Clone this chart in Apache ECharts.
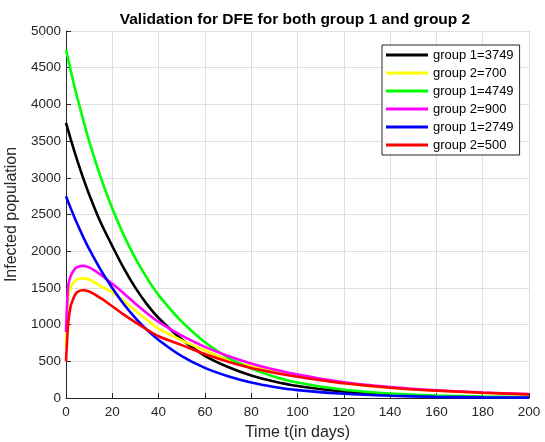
<!DOCTYPE html>
<html>
<head>
<meta charset="utf-8">
<script src="https://cdn.jsdelivr.net/npm/echarts@6/dist/echarts.min.js"></script>
<style>
  html, body { margin: 0; padding: 0; background: #fff; }
  #chart { width: 545px; height: 442px; }
</style>
</head>
<body>
<div id="chart"></div>
<script>
// time samples (days)
const days = [0, 0.5, 1, 2, 3, 4, 5, 7, 10, 15, 20, 25, 30, 35, 40, 50, 60, 70, 80, 90, 100, 120, 140, 160, 180, 200]

// group 1 curves
const g1_3749 = [3749, 3694, 3639, 3530, 3426, 3324, 3225, 3035, 2773, 2390, 2070, 1765, 1500, 1275, 1090, 800, 575, 423, 308, 224, 163, 86, 45, 24, 13, 7]
const g1_4749 = [4749, 4677, 4606, 4464, 4329, 4197, 4077, 3840, 3501, 3006, 2581, 2216, 1902, 1633, 1402, 1040, 760, 550, 400, 290, 210, 112, 62, 34, 19, 10]
const g1_2749 = [2749, 2708, 2667, 2588, 2511, 2436, 2363, 2223, 2031, 1746, 1500, 1278, 1089, 928, 791, 570, 410, 296, 210, 150, 107, 57, 30, 16, 9, 5]

// group 2 curves
const g2_700 = [700, 1100, 1370, 1500, 1560, 1600, 1618, 1630, 1615, 1525, 1440, 1320, 1190, 1065, 946, 785, 650, 520, 435, 360, 300, 203, 140, 98, 69, 47]
const g2_900 = [900, 1300, 1537, 1660, 1720, 1765, 1785, 1800, 1780, 1680, 1555, 1425, 1285, 1155, 1036, 849, 696, 572, 470, 388, 320, 215, 150, 105, 75, 53]
const g2_500 = [500, 800, 1036, 1250, 1340, 1410, 1445, 1468, 1450, 1360, 1250, 1135, 1030, 932, 841, 720, 600, 495, 410, 345, 290, 200, 140, 100, 72, 50]

const xTicks = [0, 200, 20]
const yTicks = [0, 5000, 500]

const seriesList = [
  {name: 'group 1=3749', color: '#000000', values: g1_3749},
  {name: 'group 2=700', color: '#ffff00', values: g2_700},
  {name: 'group 1=4749', color: '#00ff00', values: g1_4749},
  {name: 'group 2=900', color: '#ff00ff', values: g2_900},
  {name: 'group 1=2749', color: '#0000ff', values: g1_2749},
  {name: 'group 2=500', color: '#ff0000', values: g2_500}
]

const font = 'Liberation Sans, Arial, sans-serif'
const axisColor = '#262626'
const gridColor = '#dfdfdf'

const chart = echarts.init(document.getElementById('chart'))

chart.setOption({
  animation: false,
  title: {
    text: 'Validation for DFE for both group 1 and group 2',
    left: 290,
    top: 7,
    textAlign: 'center',
    textStyle: {fontFamily: font, fontSize: 15.5, fontWeight: 'bold', color: '#000'}
  },
  grid: {left: 66, right: 16, top: 31, bottom: 44, containLabel: false, outerBoundsMode: 'none'},
  legend: {
    orient: 'vertical',
    left: 382,
    top: 45,
    padding: [3, 6, 3, 4],
    itemWidth: 42,
    itemHeight: 3,
    itemGap: 4,
    icon: 'rect',
    borderColor: '#262626',
    borderWidth: 1,
    backgroundColor: '#fff',
    textStyle: {fontFamily: font, fontSize: 13, color: '#000', lineHeight: 14},
    data: seriesList.map(s => s.name)
  },
  xAxis: {
    type: 'value',
    min: xTicks[0],
    max: xTicks[1],
    interval: xTicks[2],
    name: 'Time t(in days)',
    nameLocation: 'middle',
    nameGap: 27,
    nameTextStyle: {fontFamily: font, fontSize: 16, color: axisColor},
    axisLine: {onZero: false, lineStyle: {color: axisColor, width: 1}},
    axisTick: {inside: true, length: 5, lineStyle: {color: axisColor}},
    axisLabel: {fontFamily: font, fontSize: 13.5, color: axisColor, margin: 7, formatter: v => String(v)},
    splitLine: {show: true, lineStyle: {color: gridColor, width: 1}}
  },
  yAxis: {
    type: 'value',
    min: yTicks[0],
    max: yTicks[1],
    interval: yTicks[2],
    name: 'Infected population',
    nameLocation: 'middle',
    nameGap: 42,
    nameTextStyle: {fontFamily: font, fontSize: 16, color: axisColor},
    axisLine: {show: true, onZero: false, lineStyle: {color: axisColor, width: 1}},
    axisTick: {show: true, inside: true, length: 5, lineStyle: {color: axisColor}},
    axisLabel: {fontFamily: font, fontSize: 13.5, color: axisColor, margin: 5, formatter: v => String(v)},
    splitLine: {show: true, lineStyle: {color: gridColor, width: 1}}
  },
  series: seriesList.map(s => ({
    name: s.name,
    type: 'line',
    data: days.map((d, i) => [d, s.values[i]]),
    showSymbol: false,
    symbol: 'none',
    smooth: 0.3,
    color: s.color,
    lineStyle: {color: s.color, width: 2.6},
    z: 2
  }))
})
</script>
</body>
</html>
